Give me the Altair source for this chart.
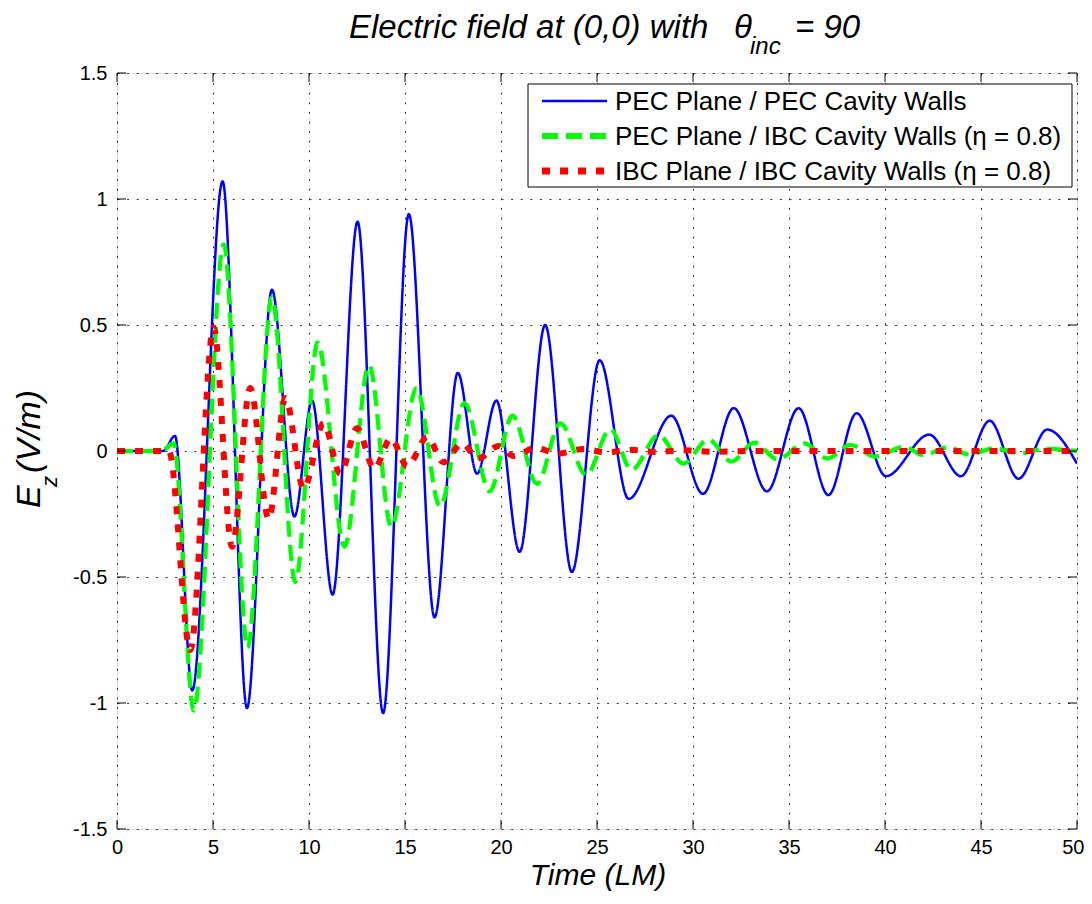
import altair as alt
import pandas as pd

# ---- data (extrema of each trace) ----
series_names = ["PEC Plane / PEC Cavity Walls",
                "PEC Plane / IBC Cavity Walls (\u03b7 = 0.8)",
                "IBC Plane / IBC Cavity Walls (\u03b7 = 0.8)"]
series_colors = ["#0000ff", "#00ff00", "#ff0000"]
series_dash = [[1, 0], [16, 8], [8, 10]]
series_width = [2.5, 6, 7]

blue_x = [0, 2.4, 3.02, 3.92, 5.5, 6.77, 8.07, 9.24, 10.16, 11.23, 12.53, 13.86, 15.2,
          16.54, 17.75, 18.75, 19.76, 20.97, 22.3, 23.69, 25.14, 26.65, 28.87, 30.52,
          32.12, 33.85, 35.5, 37.05, 38.52, 40.05, 42.3, 43.95, 45.45, 46.95, 48.45, 50]
blue_y = [0, 0, 0.06, -0.95, 1.07, -1.02, 0.64, -0.26, 0.2, -0.57, 0.91, -1.04, 0.94,
          -0.66, 0.31, -0.09, 0.2, -0.4, 0.5, -0.48, 0.36, -0.19, 0.14, -0.17,
          0.17, -0.16, 0.17, -0.175, 0.15, -0.1, 0.065, -0.1, 0.12, -0.11, 0.085, -0.05]

green_x = [0, 2.3, 2.95, 4.0, 5.56, 6.8, 8.07, 9.29, 10.45, 11.85, 13.13, 14.29, 15.6,
           16.82, 18.1, 19.41, 20.6, 21.87, 23.1, 24.43, 25.7, 26.8, 28.2, 29.5, 30.8,
           32.0, 33.2, 34.4, 35.8, 37.0, 38.2, 39.5, 41.0, 42.0, 43.3, 44.35, 45.7,
           47.1, 48.3, 50]
green_y = [0, 0, 0.03, -1.03, 0.82, -0.78, 0.61, -0.52, 0.43, -0.38, 0.34, -0.3, 0.25,
           -0.22, 0.19, -0.16, 0.14, -0.13, 0.11, -0.095, 0.086, -0.075, 0.063, -0.05,
           0.046, -0.042, 0.033, -0.033, 0.03, -0.03, 0.024, -0.022, 0.017, -0.016,
           0.015, -0.013, 0.01, -0.009, 0.009, 0]

red_x = [0, 2.7, 3.82, 5.03, 5.99, 6.94, 7.9, 8.77, 9.72, 10.76, 11.63, 12.5, 13.4,
         14.26, 15.12, 16.16, 17.0, 17.98, 18.8, 19.88, 20.66, 21.8, 23.0, 24.3, 25.5,
         26.7, 28.0, 29.5, 31.0, 33.0, 50]
red_y = [0, 0, -0.79, 0.49, -0.38, 0.25, -0.27, 0.21, -0.15, 0.11, -0.09, 0.09, -0.07,
         0.05, -0.06, 0.055, -0.045, 0.03, -0.03, 0.02, -0.02, 0.012, -0.01, 0.008,
         -0.006, 0.005, -0.004, 0.003, -0.003, 0, 0]

x_ticks = [0, 5, 10, 15, 20, 25, 30, 35, 40, 45, 50]
y_ticks = [-1.5, -1, -0.5, 0, 0.5, 1, 1.5]

rows = []
for name, xs, ys in [(series_names[0], blue_x, blue_y),
                     (series_names[1], green_x, green_y),
                     (series_names[2], red_x, red_y)]:
    for xv, yv in zip(xs, ys):
        rows.append({"series": name, "t": xv, "E": yv})
df = pd.DataFrame(rows)

W, H = 960, 756
FONT = "Liberation Sans"

xscale = alt.Scale(domain=[0, 50], nice=False, zero=False)
yscale = alt.Scale(domain=[-1.5, 1.5], nice=False, zero=False)

num_expr = "datum.value < 0 ? '-' + format(-datum.value, '~g') : format(datum.value, '~g')"

x_axis = alt.Axis(values=x_ticks, title=None, ticks=False, domain=False,
                  labelFontSize=20, labelFont=FONT, labelColor="black", labelPadding=8,
                  grid=True, gridDash=[2, 7.6], gridColor="#333333", gridWidth=1,
                  labelFlush=False, labelExpr=num_expr,
                  labelAlign={"condition": {"test": "datum.value >= 50", "value": "right"},
                              "value": "center"},
                  labelOffset={"condition": {"test": "datum.value >= 50", "value": 7},
                               "value": 0})
y_axis = alt.Axis(values=y_ticks, title=None, ticks=False, domain=False,
                  labelFontSize=20, labelFont=FONT, labelColor="black", labelPadding=10,
                  grid=True, gridDash=[2, 7.6], gridColor="#333333", gridWidth=1,
                  labelFlush=False, labelExpr=num_expr)

color_scale = alt.Scale(domain=series_names, range=series_colors)
dash_scale = alt.Scale(domain=series_names, range=series_dash)
width_scale = alt.Scale(domain=series_names, range=series_width)


def line_layer(i):
    return alt.Chart(df).transform_filter(
        alt.datum.series == series_names[i]
    ).mark_line(interpolate="monotone", strokeCap="butt", clip=True).encode(
        x=alt.X("t:Q", scale=xscale, axis=x_axis),
        y=alt.Y("E:Q", scale=yscale, axis=y_axis),
        color=alt.Color("series:N", scale=color_scale, legend=None),
        strokeDash=alt.StrokeDash("series:N", scale=dash_scale, legend=None),
        strokeWidth=alt.StrokeWidth("series:N", scale=width_scale, legend=None),
        order=alt.Order("t:Q"),
    )


lines = [line_layer(0), line_layer(1), line_layer(2)]

xt = pd.DataFrame({"v": x_ticks})
yt = pd.DataFrame({"v": y_ticks})
tick_bottom = alt.Chart(xt).mark_rule(color="black", strokeWidth=1).encode(
    x=alt.X("v:Q", scale=xscale), y=alt.value(H), y2=alt.value(H - 9))
tick_top = alt.Chart(xt).mark_rule(color="black", strokeWidth=1).encode(
    x=alt.X("v:Q", scale=xscale), y=alt.value(0), y2=alt.value(9))
tick_left = alt.Chart(yt).mark_rule(color="black", strokeWidth=1).encode(
    y=alt.Y("v:Q", scale=yscale), x=alt.value(0), x2=alt.value(9))
tick_right = alt.Chart(yt).mark_rule(color="black", strokeWidth=1).encode(
    y=alt.Y("v:Q", scale=yscale), x=alt.value(W), x2=alt.value(W - 9))

one = pd.DataFrame({"a": [0]})


def txt(s, x, y, size, angle=0, align="left", italic=True, baseline="alphabetic"):
    kw = dict(text=s, font=FONT, fontSize=size, color="black",
              align=align, baseline=baseline)
    if italic:
        kw["fontStyle"] = "italic"
    if angle:
        kw["angle"] = angle
    return alt.Chart(one).mark_text(**kw).encode(x=alt.value(x), y=alt.value(y))


texts = [
    txt("Electric field at (0,0) with", 232, -35, 33),
    txt("\u03b8", 617, -35, 33),
    txt("inc", 633, -19, 24),
    txt("= 90", 678, -35, 33),
    txt("Time (LM)", 481, 812, 30, align="center"),
    txt("E", -77, 435, 34, angle=270),
    txt("z", -60, 414, 22, angle=270),
    txt("(V/m)", -77, 400, 34, angle=270),
]

# ---- legend box (drawn by hand so the rows are compact like the reference) ----
LX0, LX1, LY0, LY1 = 411, 955, 11, 114
row_y = [28, 63, 98]
legend_box = alt.Chart(one).mark_rect(fill="white", stroke="black", strokeWidth=1).encode(
    x=alt.value(LX0), x2=alt.value(LX1), y=alt.value(LY0), y2=alt.value(LY1))
legend_items = []
for i in range(3):
    legend_items.append(
        alt.Chart(one).mark_rule(color=series_colors[i], strokeDash=series_dash[i],
                                 strokeWidth=series_width[i], strokeCap="butt").encode(
            x=alt.value(425), x2=alt.value(490), y=alt.value(row_y[i]))
    )
    legend_items.append(txt(series_names[i], 498, row_y[i] + 1, 26, italic=False,
                            baseline="middle"))

chart = alt.layer(*lines, tick_bottom, tick_top, tick_left, tick_right,
                  legend_box, *legend_items, *texts).properties(
    width=W, height=H,
    autosize=alt.AutoSizeParams(type="none"),
    padding={"left": 109, "top": 65, "right": 7, "bottom": 63},
).configure_view(stroke="black", strokeWidth=1.2).configure(background="white")

chart.save("out.html", embed_options={"renderer": "svg", "actions": False})
